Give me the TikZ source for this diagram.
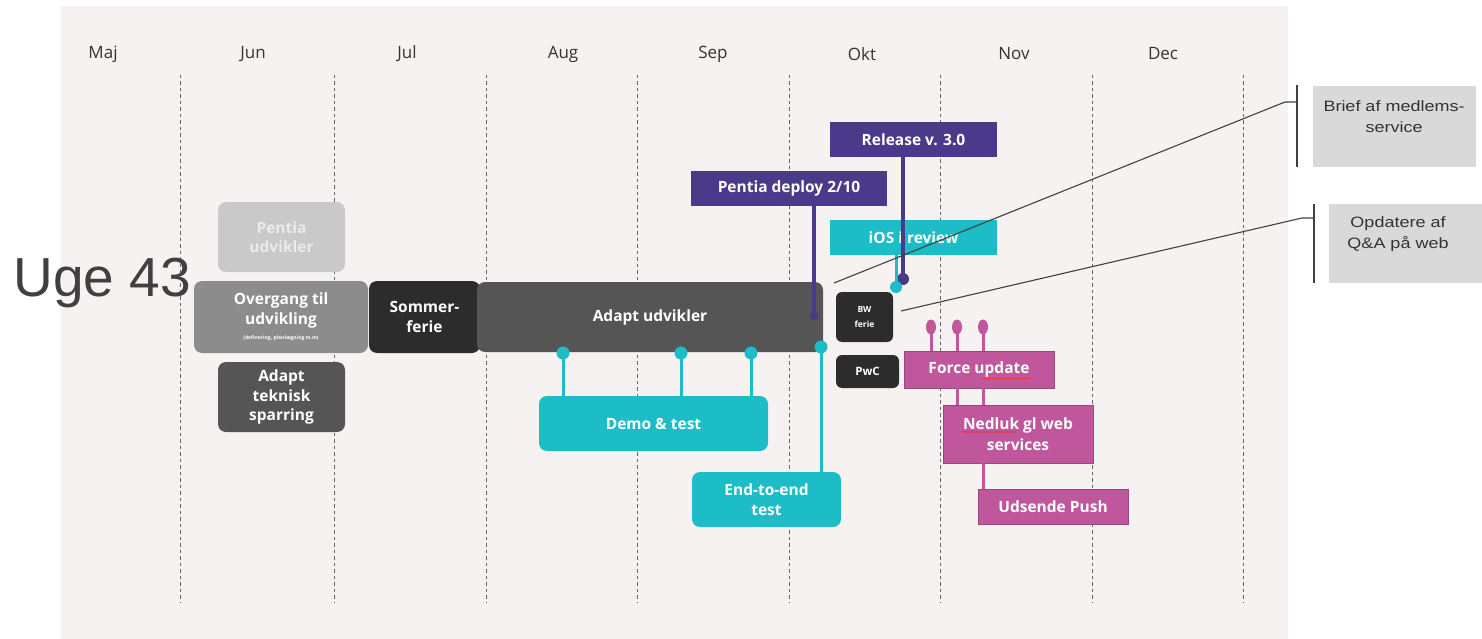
\documentclass[tikz,border=0pt]{standalone}
\usepackage{fontspec}
\setmainfont{Open Sans}
\newfontfamily\arialf{Liberation Sans}
\newfontfamily\arialw[FakeStretch=1.2]{Liberation Sans}
\usetikzlibrary{decorations.pathmorphing}
\definecolor{bgc}{HTML}{F7F2F2}
\definecolor{tealc}{HTML}{1CBDC7}
\definecolor{purpc}{HTML}{4A3A8A}
\definecolor{pinkc}{HTML}{C0579D}
\definecolor{darkc}{HTML}{2C2C2C}
\definecolor{midc}{HTML}{555555}
\definecolor{grayc}{HTML}{8C8C8C}
\definecolor{lightc}{HTML}{C9C9C9}
\definecolor{sidec}{HTML}{D9D9D9}
\definecolor{txtc}{HTML}{333333}
\begin{document}
\begin{tikzpicture}[x=1pt,y=-1pt,
  bx/.style={inner sep=0pt, align=center, text=white, font=\fontsize{15.5}{19.5}\selectfont\bfseries},
  rbx/.style={bx, rounded corners=8pt},
  month/.style={font=\fontsize{17}{19}\selectfont, text=txtc},
  grid/.style={draw=gray!80!black, dash pattern=on 3.5pt off 3pt, line width=0.9pt},
  tl/.style={draw=tealc, line width=3pt},
  pl/.style={draw=purpc, line width=3.5pt},
  kl/.style={draw=pinkc, line width=3pt},
  sl/.style={draw=black!75, line width=1.1pt},
  side/.style={fill=sidec, inner sep=0pt},
  sidet/.style={align=center, text=txtc, font=\arialw\fontsize{15}{21}\selectfont, inner sep=0pt},
  squig/.style={draw=red!85, line width=0.5pt, decorate, decoration={snake, amplitude=0.5pt, segment length=2.5pt}}
]
\useasboundingbox (0,0) rectangle (1482,639);
\fill[bgc] (61,6) rectangle (1288,639);
% grid lines
\foreach \x in {180,334,486,637,789,940,1092,1243}
  \draw[grid] (\x,75) -- (\x,603);
% months
\node[month] (mmaj) at (103,54) {Maj};
\node[month] (mjun) at (253,54) {Jun};
\node[month] (mjul) at (407,54) {Jul};
\node[month] (maug) at (563,54) {Aug};
\node[month] (msep) at (713,54) {Sep};
\node[month] (mokt) at (862,54) {Okt};
\node[month] (mnov) at (1014,54) {Nov};
\node[month] (mdec) at (1163,54) {Dec};
% left boxes
\node[rbx, fill=lightc, text=white!92!black, minimum width=127pt, minimum height=70pt] (pentia) at (281.5,237) {Pentia\\udvikler};
\node[rbx, fill=grayc, minimum width=174pt, minimum height=72pt] (overgang) at (281,317) {Overgang til\\udvikling\\[-4pt]{\fontsize{5}{6}\selectfont (definering, planlægning m.m)}};
\node[rbx, fill=darkc, minimum width=111pt, minimum height=72pt] (sommer) at (424.5,317) {Sommer-\\ferie};
\node[rbx, fill=midc, minimum width=346pt, minimum height=70pt] (adapt) at (650,317) {Adapt udvikler};
\node[rbx, fill=midc, minimum width=127pt, minimum height=70pt] (sparring) at (281.5,397) {Adapt\\teknisk\\sparring};
% teal boxes
\node[rbx, fill=tealc, minimum width=229pt, minimum height=55pt] (demo) at (653.5,423.5) {Demo \& test};
\node[rbx, fill=tealc, minimum width=149pt, minimum height=55pt] (e2e) at (766.5,499.5) {End-to-end\\test};
% purple and teal top boxes
\node[bx, fill=purpc, minimum width=167pt, minimum height=35pt] (release) at (913.5,139.5) {Release v. 3.0};
\node[bx, fill=purpc, minimum width=196pt, minimum height=35pt] (deploy) at (789,188.5) {Pentia deploy 2/10};
\node[bx, fill=tealc, minimum width=167pt, minimum height=35pt] (ios) at (913.5,237.5) {iOS i review};
% small dark boxes
\node[rbx, fill=darkc, rounded corners=6pt, minimum width=57pt, minimum height=50pt, font=\fontsize{8.5}{15}\selectfont\bfseries] (bw) at (864.5,317) {BW\\ferie};
\node[rbx, fill=darkc, rounded corners=6pt, minimum width=63pt, minimum height=33pt, font=\fontsize{11.5}{13}\selectfont\bfseries] (pwc) at (867.5,371.5) {PwC};
% pink boxes
\node[bx, fill=pinkc, draw=pinkc!80!black, line width=0.6pt, minimum width=150pt, minimum height=37pt] (force) at (979,369.5) {Force update};
\node[bx, fill=pinkc, draw=pinkc!80!black, line width=0.6pt, minimum width=150pt, minimum height=58pt, font=\fontsize{15.5}{21}\selectfont\bfseries] (nedluk) at (1018,434) {Nedluk gl web\\services};
\node[bx, fill=pinkc, draw=pinkc!80!black, line width=0.6pt, minimum width=150pt, minimum height=35pt] (push) at (1053,506.5) {Udsende Push};
% spellcheck squiggles
\draw[squig] ([shift={(2,9)}]force.center) -- ([shift={(52,9)}]force.center);
\draw[squig] ([shift={(-57,-2)}]nedluk.center) -- ([shift={(-2,-2)}]nedluk.center);
% side boxes
\node[side, minimum width=163pt, minimum height=81pt] (brief) at (1394.5,126.5) {};
\node[sidet] (brieft) at (1394,117) {Brief\,\,af medlems-\\service};
\node[side, minimum width=153pt, minimum height=79pt] (opd) at (1405.5,243.5) {};
\node[sidet] (opdt) at (1398,234) {Opdatere\,\,af\\Q\&A på web};
% Uge 43
\node[font=\arialf\fontsize{55}{60}\selectfont, text=black!75, inner sep=0pt] (uge) at (102,283) {Uge 43};
% teal connectors to demo
\foreach \x [count=\i] in {563,681,751}{
  \coordinate (d\i) at (\x,353);
  \draw[tl] (d\i) -- (d\i |- demo.north);
  \fill[tealc] (d\i) circle (6.5pt);
}
\coordinate (e1) at (821,347);
\draw[tl] (e1) -- (e1 |- e2e.north);
\fill[tealc] (e1) circle (6.5pt);
% purple deploy line
\coordinate (p1) at (814,316);
\draw[pl, line cap=round] (p1 |- deploy.south) -- (p1);
\fill[purpc] (p1) circle (4.5pt);
% release line
\coordinate (r1) at (903,279);
\draw[pl] (r1 |- release.south) -- (r1);
\fill[purpc] (r1) circle (6pt);
% ios line
\coordinate (i1) at (896,287);
\draw[tl] (i1 |- ios.south) -- (i1);
\fill[tealc] (i1) circle (6pt);
% pink lollipops
\foreach \x [count=\i] in {931,957,983}{
  \coordinate (k\i) at (\x,327);
  \draw[kl] (k\i) -- (k\i |- force.north);
  \fill[pinkc] (k\i) ellipse (5pt and 7.5pt);
}
\coordinate (k6) at (957,388);
\draw[kl] (k6) -- (k6 |- nedluk.north);
\coordinate (k4) at (983,388);
\draw[kl] (k4) -- (k4 |- nedluk.north);
\coordinate (k5) at (983,463);
\draw[kl] (k5) -- (k5 |- push.north);
% side connectors
\coordinate (bbar) at (1297,102);
\coordinate (obar) at (1314,218);
\draw[sl] (1297,85) -- (1297,167);
\draw[sl] (1314,204) -- (1314,283);
\coordinate (s1) at (834,283);
\coordinate (s2) at (901,311);
\draw[sl] (s1) -- (1285,102) -- (bbar);
\draw[sl] (s2) -- (1302,218) -- (obar);
\end{tikzpicture}
\end{document}
